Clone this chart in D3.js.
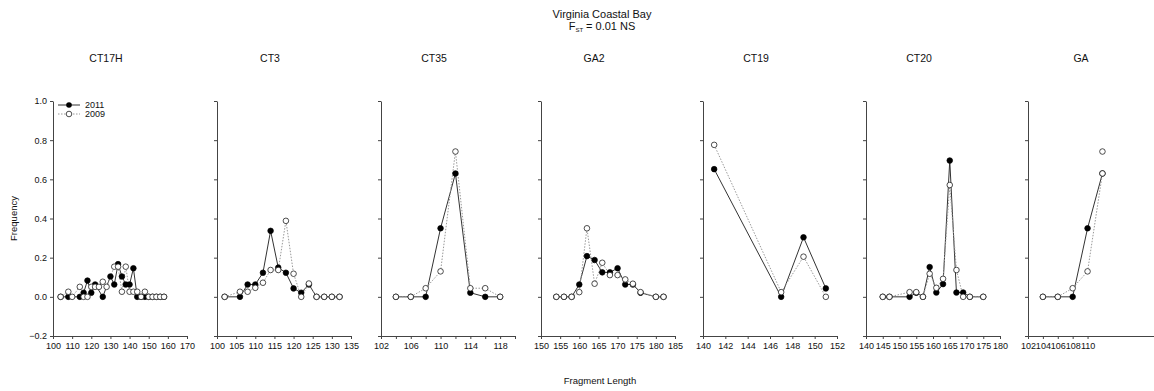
<!DOCTYPE html>
<html>
<head>
<meta charset="utf-8">
<script src="https://cdn.jsdelivr.net/npm/d3@7"></script>
<style>
  body { margin: 0; background: #fff; }
  text { font-family: "Liberation Sans", Arial, sans-serif; fill: #111; }
</style>
</head>
<body>
<div id="chart"></div>
<script>
// loci shown, one panel each
const loci = ['CT17H', 'CT3', 'CT35', 'GA2', 'CT19', 'CT20', 'GA'];

// x domains and ticks for each locus
const xDomains = [[100, 170], [100, 135], [102, 120], [150, 185], [140, 152], [140, 180], [102, 120]];
const xTicks = [
  d3.range(100, 171, 10),
  d3.range(100, 136, 5),
  d3.range(102, 121, 2),
  d3.range(150, 186, 5),
  d3.range(140, 153, 2),
  d3.range(140, 181, 5),
  [102, 104, 106, 108, 110]
];
const xLabels = [
  d3.range(100, 171, 10),
  d3.range(100, 136, 5),
  [102, 106, 110, 114, 118],
  d3.range(150, 186, 5),
  d3.range(140, 153, 2),
  d3.range(140, 181, 5),
  [102, 104, 106, 108, 110]
];
const yTicks = [-0.2, 0, 0.2, 0.4, 0.6, 0.8, 1.0];

// allele frequencies, [fragment length, frequency]
const freq2011 = [
  [[104, 0], [108, 0], [114, 0], [116, 0.021], [118, 0.083], [120, 0.021], [122, 0.063], [126, 0], [130, 0.104], [132, 0.063], [134, 0.167], [136, 0.104], [138, 0.063], [140, 0.063], [142, 0.146], [144, 0], [146, 0], [148, 0], [150, 0], [152, 0], [154, 0], [156, 0], [158, 0]],
  [[102, 0], [106, 0], [108, 0.063], [110, 0.063], [112, 0.123], [114, 0.337], [116, 0.149], [118, 0.123], [120, 0.043], [122, 0.021], [124, 0.063], [126, 0], [128, 0], [130, 0], [132, 0]],
  [[104, 0], [106, 0], [108, 0], [110, 0.35], [112, 0.63], [114, 0.021], [116, 0], [118, 0]],
  [[154, 0], [156, 0], [158, 0], [160, 0.063], [162, 0.208], [164, 0.188], [166, 0.125], [168, 0.125], [170, 0.146], [172, 0.063], [174, 0.063], [176, 0.021], [180, 0], [182, 0]],
  [[141, 0.652], [147, 0], [149, 0.304], [151, 0.043]],
  [[145, 0], [147, 0], [153, 0], [155, 0.021], [157, 0], [159, 0.152], [161, 0.022], [163, 0.065], [165, 0.696], [167, 0.022], [169, 0.022], [171, 0], [175, 0]],
  [[104, 0], [106, 0], [108, 0], [110, 0.35], [112, 0.63]]
];
const freq2009 = [
  [[104, 0], [108, 0.026], [110, 0], [114, 0.051], [116, 0], [118, 0], [120, 0.051], [122, 0.051], [124, 0.051], [126, 0.077], [128, 0.051], [132, 0.154], [134, 0.154], [136, 0.026], [138, 0.154], [140, 0.026], [142, 0.026], [144, 0.026], [146, 0], [148, 0.026], [150, 0], [152, 0], [154, 0], [156, 0], [158, 0]],
  [[102, 0], [106, 0.026], [108, 0.026], [110, 0.046], [112, 0.072], [114, 0.137], [116, 0.137], [118, 0.388], [120, 0.118], [122, 0], [124, 0.068], [126, 0], [128, 0], [130, 0], [132, 0]],
  [[104, 0], [106, 0], [108, 0.044], [110, 0.13], [112, 0.742], [114, 0.044], [116, 0.044], [118, 0]],
  [[154, 0], [156, 0], [158, 0], [160, 0.024], [162, 0.35], [164, 0.067], [166, 0.174], [168, 0.111], [170, 0.111], [172, 0.089], [174, 0.067], [176, 0.024], [180, 0], [182, 0]],
  [[141, 0.776], [147, 0.024], [149, 0.205], [151, 0]],
  [[145, 0], [147, 0], [153, 0.024], [155, 0.024], [157, 0], [159, 0.118], [161, 0.046], [163, 0.092], [165, 0.571], [167, 0.137], [169, 0], [171, 0], [175, 0]],
  [[104, 0], [106, 0], [108, 0.044], [110, 0.13], [112, 0.63]]
];
// stray 2009 marker without a line (GA panel)
const extra2009 = [[], [], [], [], [], [], [[112, 0.742]]];

const W = 1154, H = 391;
const panelLeft = [53, 217, 381, 541, 703, 866, 1028];
const panelW = 134;
const plotTop = 101, plotBottom = 336;

const svg = d3.select('#chart')
  .append('svg')
  .attr('width', W)
  .attr('height', H)
  .attr('viewBox', `0 0 ${W} ${H}`);

const y = d3.scaleLinear()
  .domain([-0.2, 1.0])
  .range([plotBottom, plotTop]);

// title
svg.append('text')
  .attr('x', 602).attr('y', 18)
  .attr('text-anchor', 'middle')
  .style('font-size', '11px')
  .text('Virginia Coastal Bay');

const fst = svg.append('text')
  .attr('x', 602).attr('y', 30)
  .attr('text-anchor', 'middle')
  .style('font-size', '11px');
fst.append('tspan').text('F');
fst.append('tspan').attr('dy', 2).style('font-size', '6px').text('ST');
fst.append('tspan').attr('dy', -2).text(' = 0.01 NS');

loci.forEach((name, i) => {
  const g = svg.append('g')
    .attr('transform', `translate(${panelLeft[i]},0)`);

  const x = d3.scaleLinear()
    .domain(xDomains[i])
    .range([0, panelW]);

  g.append('text')
    .attr('x', 53).attr('y', 62)
    .attr('text-anchor', 'middle')
    .style('font-size', '10.5px')
    .text(name);

  // x axis
  const xa = g.append('g')
    .attr('transform', `translate(0,${plotBottom})`)
    .call(d3.axisBottom(x)
      .tickValues(xTicks[i])
      .tickSize(3)
      .tickSizeOuter(0)
      .tickFormat(d => xLabels[i].includes(d) ? d : ''));
  xa.select('.domain').attr('stroke', '#444');
  xa.selectAll('.tick line').attr('stroke', '#444');
  xa.selectAll('.tick text').attr('dy', '0.71em').attr('y', 7)
    .style('font-size', '9px').attr('fill', '#111');

  // y axis
  const ya = g.append('g')
    .call(d3.axisLeft(y)
      .tickValues(yTicks)
      .tickSize(3)
      .tickSizeOuter(0)
      .tickFormat(i === 0 ? d3.format('.1f') : ''));
  ya.select('.domain').attr('stroke', '#444');
  ya.selectAll('.tick line').attr('stroke', '#444');
  ya.selectAll('.tick text').attr('x', -6).style('font-size', '9px').attr('fill', '#111');

  const line = d3.line()
    .x(d => x(d[0]))
    .y(d => y(d[1]));

  g.append('path')
    .datum(freq2011[i])
    .attr('d', line)
    .attr('fill', 'none')
    .attr('stroke', '#333')
    .attr('stroke-width', 1);

  g.append('path')
    .datum(freq2009[i])
    .attr('d', line)
    .attr('fill', 'none')
    .attr('stroke', '#999')
    .attr('stroke-width', 1)
    .attr('stroke-dasharray', '1.5,1.5');

  g.selectAll('.p11')
    .data(freq2011[i])
    .enter()
    .append('circle')
    .attr('cx', d => x(d[0]))
    .attr('cy', d => y(d[1]))
    .attr('r', 2.8)
    .attr('fill', '#000')
    .attr('stroke', '#000')
    .attr('stroke-width', 0.7);

  g.selectAll('.p09')
    .data(freq2009[i].concat(extra2009[i]))
    .enter()
    .append('circle')
    .attr('cx', d => x(d[0]))
    .attr('cy', d => y(d[1]))
    .attr('r', 2.8)
    .attr('fill', '#fff')
    .attr('stroke', '#222')
    .attr('stroke-width', 0.8);
});

// legend in first panel
const leg = svg.append('g').attr('transform', 'translate(58,105)');
leg.append('line').attr('x1', 0).attr('x2', 22).attr('y1', 0).attr('y2', 0)
  .attr('stroke', '#333');
leg.append('circle').attr('cx', 11).attr('cy', 0).attr('r', 2.8).attr('fill', '#000');
leg.append('text').attr('x', 27).attr('y', 3).style('font-size', '9px').text('2011');
leg.append('line').attr('x1', 0).attr('x2', 22).attr('y1', 9).attr('y2', 9)
  .attr('stroke', '#999').attr('stroke-dasharray', '1.5,1.5');
leg.append('circle').attr('cx', 11).attr('cy', 9).attr('r', 2.8)
  .attr('fill', '#fff').attr('stroke', '#222').attr('stroke-width', 0.8);
leg.append('text').attr('x', 27).attr('y', 12).style('font-size', '9px').text('2009');

// axis titles
svg.append('text')
  .attr('transform', `translate(17,${(plotTop + plotBottom) / 2}) rotate(-90)`)
  .attr('text-anchor', 'middle')
  .style('font-size', '9.5px')
  .text('Frequency');

svg.append('text')
  .attr('x', 600).attr('y', 384)
  .attr('text-anchor', 'middle')
  .style('font-size', '9.5px')
  .text('Fragment Length');
</script>
</body>
</html>
